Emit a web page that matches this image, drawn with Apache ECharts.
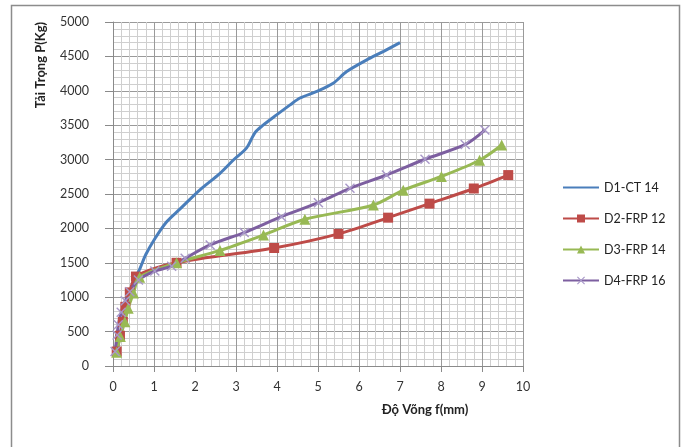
<!DOCTYPE html>
<html>
<head>
<meta charset="utf-8">
<script src="https://cdn.jsdelivr.net/npm/echarts@6/dist/echarts.min.js"></script>
<style>
  html, body { margin: 0; padding: 0; background: #fff; }
  #chart { width: 685px; height: 447px; }
</style>
</head>
<body>
<div id="chart"></div>
<script>
// series names
let seriesNames = ['D1-CT 14', 'D2-FRP 12', 'D3-FRP 14', 'D4-FRP 16']

// [deflection mm, load kg]
let d1 = [[0.09, 200], [0.17, 450], [0.27, 750], [0.4, 1050], [0.56, 1300], [0.66, 1420], [0.8, 1620],
    [1.02, 1850], [1.3, 2090], [1.63, 2280], [2.12, 2560], [2.61, 2800], [2.93, 2990], [3.26, 3170],
    [3.46, 3390], [3.66, 3500], [3.99, 3650], [4.32, 3795], [4.56, 3895], [4.97, 3990], [5.37, 4110],
    [5.7, 4280], [6.19, 4450], [6.59, 4570], [7.0, 4700]]
let d2 = [[0.09, 210], [0.17, 440], [0.24, 640], [0.3, 860], [0.41, 1070], [0.56, 1300], [1.55, 1500],
    [3.93, 1715], [5.5, 1920], [6.71, 2156], [7.72, 2360], [8.8, 2580], [9.64, 2775]]
let d3 = [[0.09, 200], [0.18, 430], [0.29, 644], [0.37, 840], [0.5, 1060], [0.65, 1290], [1.55, 1500],
    [2.61, 1680], [3.67, 1904], [4.68, 2132], [6.35, 2340], [7.08, 2555], [8.01, 2755], [8.94, 2990], [9.48, 3212]]
let d4 = [[0.05, 210], [0.1, 450], [0.13, 600], [0.2, 780], [0.3, 950], [0.41, 1080], [0.62, 1250],
    [1.02, 1380], [1.43, 1450], [1.76, 1565], [2.37, 1760], [3.2, 1940], [4.11, 2171], [5.01, 2374],
    [5.78, 2582], [6.67, 2776], [7.61, 3005], [8.59, 3220], [9.07, 3430]]

let colors = ['#4A7EBB', '#BE4B48', '#98B954', '#7D5FA0']
let crossIcon = 'path://M0,1L1,0L5,4L9,0L10,1L6,5L10,9L9,10L5,6L1,10L0,9L4,5Z'
let font = 'Lato, "Liberation Sans", sans-serif'

let chart = echarts.init(document.getElementById('chart'))

let option = {
    animation: false,
    color: colors,
    grid: { left: 113, right: 162, top: 22, bottom: 81 },
    legend: {
        orient: 'vertical',
        left: 557,
        top: 176,
        itemWidth: 36,
        itemHeight: 10,
        itemGap: 18,
        textStyle: { fontFamily: font, fontSize: 12.5, color: '#222' },
        data: [
            { name: seriesNames[0], itemStyle: { opacity: 0 } },
            seriesNames[1], seriesNames[2], seriesNames[3]
        ]
    },
    xAxis: {
        type: 'value',
        min: 0,
        max: 10,
        interval: 1,
        axisLine: { lineStyle: { color: '#8a8a8a' } },
        axisTick: { show: true, length: 6, lineStyle: { color: '#8a8a8a' } },
        axisLabel: { margin: 14, fontFamily: font, fontSize: 12.5, color: '#333' },
        splitLine: { lineStyle: { color: '#9a9a9a', width: 1 } },
        minorTick: { show: false, splitNumber: 5 },
        minorSplitLine: { show: true, lineStyle: { color: '#cfcfcf', width: 1 } }
    },
    yAxis: {
        type: 'value',
        min: 0,
        max: 5000,
        interval: 500,
        axisLine: { show: true, lineStyle: { color: '#8a8a8a' } },
        axisTick: { show: true, length: 8, lineStyle: { color: '#8a8a8a' } },
        axisLabel: {
            margin: 24, fontFamily: font, fontSize: 12.5, color: '#333',
            formatter: function(v) { return String(v) }
        },
        splitLine: { lineStyle: { color: '#9a9a9a', width: 1 } },
        minorTick: { show: false, splitNumber: 5 },
        minorSplitLine: { show: true, lineStyle: { color: '#cfcfcf', width: 1 } }
    },
    graphic: [
        {
            type: 'rect',
            shape: { x: 11.5, y: 5.5, width: 668, height: 460 },
            style: { fill: 'none', stroke: '#8c8c8c', lineWidth: 1.5 },
            silent: true
        },
        {
            type: 'text',
            x: 41,
            y: 65,
            rotation: Math.PI / 2,
            style: {
                text: 'Tải Trọng P(Kg)',
                font: 'bold 13px ' + font,
                fill: '#222',
                align: 'center',
                verticalAlign: 'middle'
            }
        },
        {
            type: 'text',
            x: 425,
            y: 410,
            style: {
                text: 'Độ Võng f(mm)',
                font: 'bold 13px ' + font,
                fill: '#222',
                align: 'center',
                verticalAlign: 'middle'
            }
        }
    ],
    series: [
        {
            name: seriesNames[0],
            type: 'line',
            smooth: 0.3,
            symbol: 'none',
            lineStyle: { width: 3 },
            data: d1
        },
        {
            name: seriesNames[1],
            type: 'line',
            smooth: 0.3,
            symbol: 'rect',
            symbolSize: 10,
            lineStyle: { width: 3 },
            data: d2
        },
        {
            name: seriesNames[2],
            type: 'line',
            smooth: 0.3,
            symbol: 'triangle',
            symbolSize: 11,
            lineStyle: { width: 3 },
            data: d3
        },
        {
            name: seriesNames[3],
            type: 'line',
            smooth: 0.3,
            symbol: crossIcon,
            symbolSize: 10,
            itemStyle: { color: '#A898C8' },
            lineStyle: { width: 3, color: colors[3] },
            data: d4
        }
    ]
}

chart.setOption(option)
</script>
</body>
</html>
